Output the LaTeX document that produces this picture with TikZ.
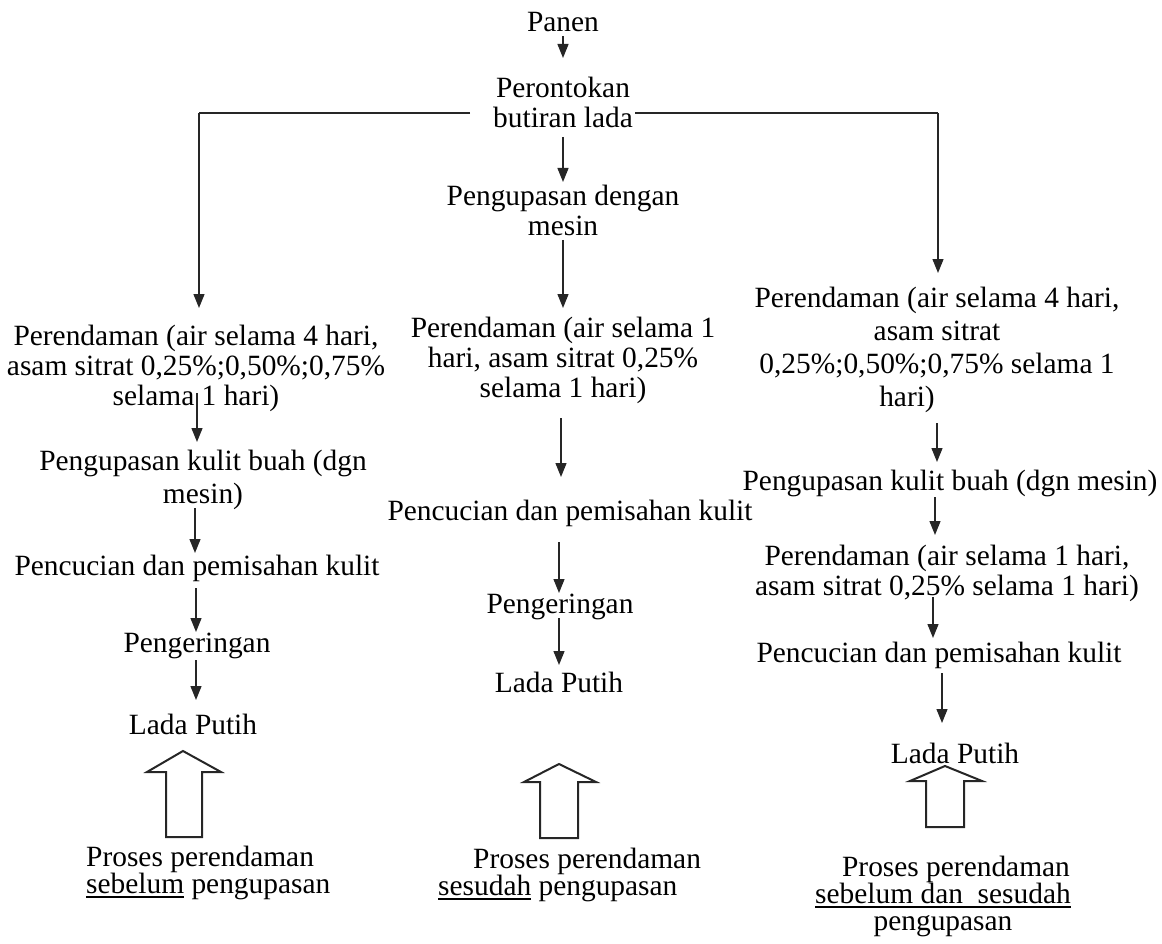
\documentclass[tikz,border=0pt]{standalone}
\usepackage{fontspec}
\setmainfont{Liberation Serif}
\newcommand{\myul}[1]{\setbox0\hbox{#1}\rlap{\rule[-4.5pt]{\wd0}{1.5pt}}\box0\relax}
\usetikzlibrary{arrows.meta}
\begin{document}
\begin{tikzpicture}[x=1pt,y=-1pt,
  lbl/.style={inner sep=0pt, anchor=base, align=center, font=\fontsize{29.4}{30}\selectfont},
  wide/.style={inner sep=0pt, anchor=base, align=center, font=\fontsize{29.4}{33}\selectfont},
  low/.style={inner sep=0pt, font=\fontsize{29.4}{27}\selectfont},
  arr/.style={draw=black!85, line width=1.3pt, -{Triangle[length=14pt,width=11pt]}},
  trunk/.style={draw=black!85, line width=2pt},
  blk/.style={draw=black!85, line width=2pt, fill=white, line join=miter},
]
\useasboundingbox (0,0) rectangle (1162,944);

% ---------- centre column (multi-line nodes anchored on their last baseline) ----------
\node[lbl] (panen) at (563,32) {Panen};
\node[lbl] (pero) at (563,128) {Perontokan\\butiran lada};
\node[lbl] (kupasB) at (563,236) {Pengupasan dengan\\mesin};
\node[lbl] (rendB) at (563,397) {Perendaman (air selama 1\\hari, asam sitrat 0,25\%\\selama 1 hari)};
\node[lbl] (cuciB) at (570,520) {Pencucian dan pemisahan kulit};
\node[lbl] (keringB) at (560,613) {Pengeringan};
\node[lbl] (ladaB) at (559,692) {Lada Putih};

\coordinate (c0a) at (563,36);  \coordinate (c0b) at (563,58);
\coordinate (c1a) at (563,137); \coordinate (c1b) at (563,182);
\coordinate (c2a) at (563,240); \coordinate (c2b) at (563,308);
\coordinate (c3a) at (561,418); \coordinate (c3b) at (561,477);
\coordinate (c4a) at (559,542); \coordinate (c4b) at (559,593);
\coordinate (c5a) at (559,618); \coordinate (c5b) at (559,665);
\draw[arr] (c0a) -- (c0b);
\draw[arr] (c1a) -- (c1b);
\draw[arr] (c2a) -- (c2b);
\draw[arr] (c3a) -- (c3b);
\draw[arr] (c4a) -- (c4b);
\draw[arr] (c5a) -- (c5b);

% ---------- branches ----------
\coordinate (hl) at (470,113); \coordinate (lcorner) at (199,113); \coordinate (ltip) at (199,308);
\coordinate (hr) at (635,113); \coordinate (rcorner) at (938,113); \coordinate (rtip) at (938,273);
\draw[trunk] (hl) -- (lcorner);
\draw[arr] (lcorner) -- (ltip);
\draw[trunk] (hr) -- (rcorner);
\draw[arr] (rcorner) -- (rtip);

% ---------- left column ----------
\node[lbl] (rendA) at (196,405) {Perendaman (air selama 4 hari,\\asam sitrat 0,25\%;0,50\%;0,75\%\\selama 1 hari)};
\node[wide] (kupasA) at (203,503) {Pengupasan kulit buah (dgn\\mesin)};
\node[lbl] (cuciA) at (197,575) {Pencucian dan pemisahan kulit};
\node[lbl] (keringA) at (197,652) {Pengeringan};
\node[lbl] (ladaA) at (193,734) {Lada Putih};

\coordinate (l1a) at (197,393); \coordinate (l1b) at (197,442);
\coordinate (l2a) at (195,508); \coordinate (l2b) at (195,553);
\coordinate (l3a) at (196,588); \coordinate (l3b) at (196,632);
\coordinate (l4a) at (196,660); \coordinate (l4b) at (196,700);
\draw[arr] (l1a) -- (l1b);
\draw[arr] (l2a) -- (l2b);
\draw[arr] (l3a) -- (l3b);
\draw[arr] (l4a) -- (l4b);

% ---------- right column ----------
\node[wide] (rendC) at (937,406) {Perendaman (air selama 4 hari,\\asam sitrat\\0,25\%;0,50\%;0,75\% selama 1\\hari)\hspace*{60pt}};
\node[lbl] (kupasC) at (950,490) {Pengupasan kulit buah (dgn mesin)};
\node[lbl] (rend2C) at (947,595) {Perendaman (air selama 1 hari,\\asam sitrat 0,25\% selama 1 hari)};
\node[lbl] (cuciC) at (939,662) {Pencucian dan pemisahan kulit};
\node[lbl] (ladaC) at (955,763) {Lada Putih};

\coordinate (r1a) at (937,423); \coordinate (r1b) at (937,462);
\coordinate (r2a) at (935,497); \coordinate (r2b) at (935,535);
\coordinate (r3a) at (933,597); \coordinate (r3b) at (933,638);
\coordinate (r4a) at (942,673); \coordinate (r4b) at (942,723);
\draw[arr] (r1a) -- (r1b);
\draw[arr] (r2a) -- (r2b);
\draw[arr] (r3a) -- (r3b);
\draw[arr] (r4a) -- (r4b);

% ---------- block arrows ----------
\draw[blk] (183,751) -- (221,772) -- (202,772) -- (202,837) -- (166,837) -- (166,772) -- (147,772) -- cycle;
\draw[blk] (559,764) -- (596,782) -- (578,782) -- (578,838) -- (540,838) -- (540,782) -- (524,782) -- cycle;
\draw[blk] (945,766) -- (982,781) -- (964,781) -- (964,827) -- (926,827) -- (926,781) -- (910,781) -- cycle;

% ---------- bottom captions ----------
\node[low, anchor=base west, align=left] (capA) at (86,893) {Proses perendaman\\\myul{sebelum} pengupasan};
\node[low, anchor=base west, align=left] (capB) at (438,895) {\hspace*{35pt}Proses perendaman\\\myul{sesudah} pengupasan};
\node[low, anchor=base, align=center] (capC) at (943,930) {\hspace*{26pt}Proses perendaman\\\myul{sebelum dan\ \ sesudah}\\pengupasan};
\end{tikzpicture}
\end{document}
